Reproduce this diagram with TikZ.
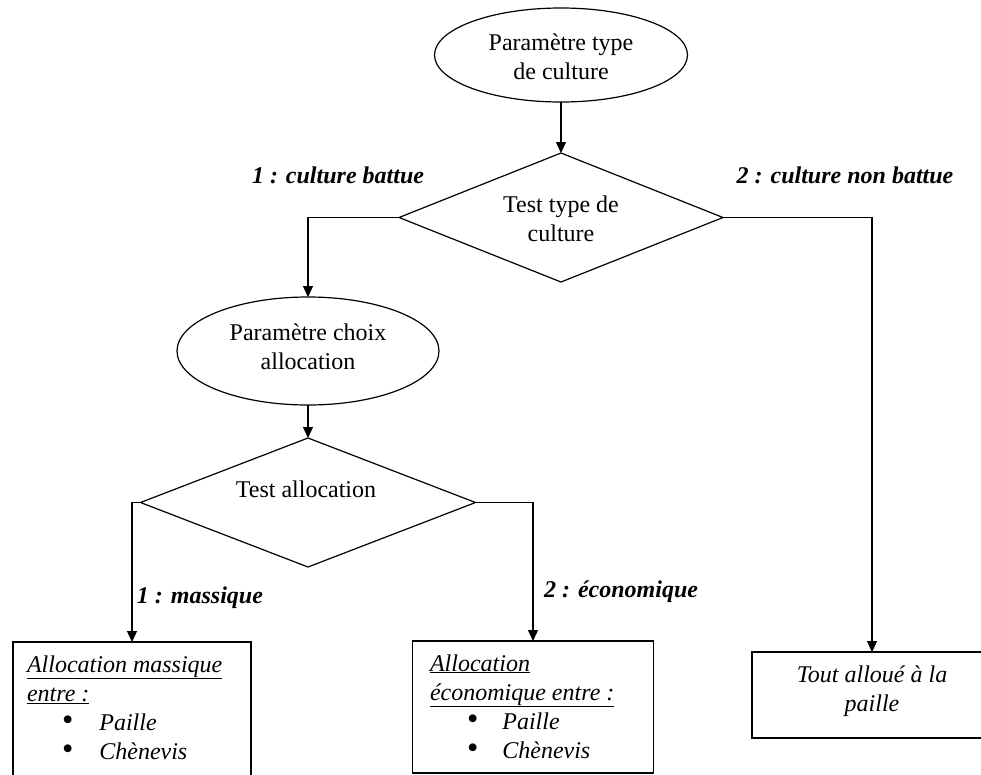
\documentclass[tikz,border=0pt]{standalone}
\usepackage{fontspec}
\setmainfont{Liberation Serif}
\usetikzlibrary{shapes.geometric,arrows.meta}
\newcommand{\bigbul}{{\upshape\scalebox{1.35}{•}}}
\begin{document}
\begin{tikzpicture}[x=1pt,y=-1pt,
  every node/.style={font=\fontsize{24}{29}\selectfont, inner sep=0pt, outer sep=0pt},
  ell/.style={draw, ellipse, line width=1.2pt},
  dia/.style={draw, diamond, line width=1.2pt},
  boxnode/.style={draw, rectangle, line width=1.2pt},
  conn/.style={line width=1.2pt, -{Triangle[length=11pt,width=10pt]}},
  lbl/.style={font=\fontsize{24}{29}\selectfont\bfseries\itshape, anchor=base},
  txt/.style={anchor=base}
]
\useasboundingbox (0,0) rectangle (981,774);
\clip (0,0) rectangle (981,774);

% shapes
\node[ell, minimum width=253pt, minimum height=94pt] (e1) at (561,55) {};
\node[dia, minimum width=324pt, minimum height=129pt] (d1) at (561,217.5) {};
\node[ell, minimum width=262pt, minimum height=108pt] (e2) at (308,351) {};
\node[dia, minimum width=335pt, minimum height=129pt] (d2) at (308,502.5) {};
\node[boxnode, minimum width=238pt, minimum height=150pt] (b1) at (132,717) {};
\node[boxnode, minimum width=241pt, minimum height=132pt] (b2) at (533,707) {};
\node[boxnode, minimum width=240pt, minimum height=86pt] (b3) at (872,695) {};

% texts in shapes
\node[txt] (t1) at (561,50) {\begin{tabular}[t]{@{}c@{}}Paramètre type\\de culture\end{tabular}};
\node[txt] (t2) at (561,212) {\begin{tabular}[t]{@{}c@{}}Test type de\\culture\end{tabular}};
\node[txt] (t3) at (308,340) {\begin{tabular}[t]{@{}c@{}}Paramètre choix\\allocation\end{tabular}};
\node[txt] (t4) at (306,497) {Test allocation};
\node[anchor=base west] (t5) at (27,672) {\itshape\begin{tabular}[t]{@{}l@{}}\underline{Allocation massique}\\\underline{entre :}\\\hspace{35pt}\bigbul\hspace{26pt}Paille\\\hspace{35pt}\bigbul\hspace{26pt}Chènevis\end{tabular}};
\node[anchor=base west] (t6) at (430,671) {\itshape\begin{tabular}[t]{@{}l@{}}\underline{Allocation}\\\underline{économique entre :}\\\hspace{37pt}\bigbul\hspace{24pt}Paille\\\hspace{37pt}\bigbul\hspace{24pt}Chènevis\end{tabular}};
\node[txt] (t7) at (872,682) {\itshape\begin{tabular}[t]{@{}c@{}}Tout alloué à la\\paille\end{tabular}};

% labels
\node[lbl] (l1) at (338,183) {1 : culture battue};
\node[lbl] (l2) at (845,183) {2 : culture non battue};
\node[lbl] (l3) at (200,603) {1 : massique};
\node[lbl] (l4) at (621,597) {2 : économique};

% connectors
\draw[conn] (e1.south) -- (d1.north);
\draw[conn] (d1.west) -| (e2.north);
\draw[conn] (d1.east) -| (b3.north);
\draw[conn] (e2.south) -- (d2.north);
\draw[conn] (d2.west) -| (b1.north);
\draw[conn] (d2.east) -| (b2.north);
\end{tikzpicture}
\end{document}
